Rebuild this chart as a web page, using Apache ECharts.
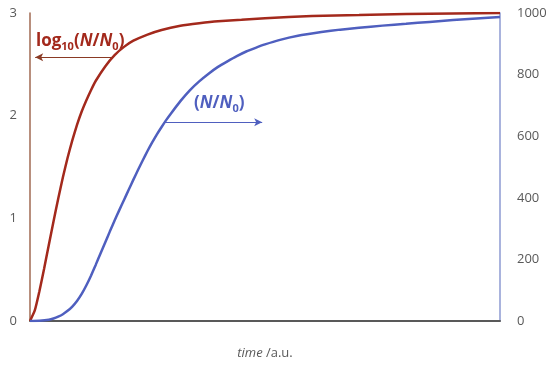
<!DOCTYPE html>
<html><head><meta charset="utf-8">
<script src="https://cdn.jsdelivr.net/npm/echarts@6/dist/echarts.min.js"></script>
<style>html,body{margin:0;padding:0;background:#fff}#c{width:550px;height:365px}</style>
</head><body><div id="c"></div>
<script>
// time (a.u.) and values
const redTime = [0, 1, 2, 3, 4, 5, 6, 7, 8, 9, 10, 11, 12, 13, 14, 16, 18, 20, 22, 25, 28, 32, 36, 40, 45, 50, 60, 70, 80, 90, 100];
const logValues = [0, 0.10, 0.29, 0.51, 0.74, 0.97, 1.19, 1.40, 1.59, 1.76, 1.91, 2.04, 2.15, 2.25, 2.34, 2.48, 2.59, 2.67, 2.73, 2.79, 2.835, 2.875, 2.90, 2.92, 2.935, 2.95, 2.97, 2.98, 2.99, 2.995, 3.0];
const blueTime = [0, 2, 4, 5, 6, 7, 8, 9, 10, 11, 12, 13, 14, 15, 16, 17, 18, 19, 20, 21, 22, 23, 24, 25, 26, 27, 28, 29, 30, 32, 34, 36, 38, 40, 42, 44, 46, 48, 50, 53, 57, 62, 66, 70, 75, 80, 85, 90, 95, 100];
const ratioValues = [0, 1, 4, 8, 14, 22, 33, 47, 65, 88, 116, 148, 183, 219, 255, 291, 326, 360, 393, 426, 459, 491, 522, 552, 580, 606, 630, 653, 674, 714, 749, 778, 803, 825, 843, 860, 875, 887, 898, 912, 926, 938, 946, 952, 959, 965, 971, 977, 982, 987];
const leftTicks = [0, 1, 2, 3];
const rightTicks = [0, 200, 400, 600, 800, 1000];

const RED = '#a3291c', BLUE = '#4f5fbf', GRAY = '#595959';
const chart = echarts.init(document.getElementById('c'));
chart.setOption({
  animation: false,
  grid: {left: 30, right: 50, top: 13, bottom: 39},
  xAxis: {
    type: 'value', min: 0, max: 100,
    axisLine: {lineStyle: {color: GRAY, width: 2}},
    axisTick: {show: false}, axisLabel: {show: false}, splitLine: {show: false},
    name: '{i|time} {n|/a.u.}', nameLocation: 'middle', nameGap: 26,
    nameTextStyle: {rich: {
      i: {fontStyle: 'italic', fontSize: 13, color: GRAY, fontFamily: 'Open Sans'},
      n: {fontSize: 13, color: GRAY, fontFamily: 'Open Sans'}
    }}
  },
  yAxis: [{
    type: 'value', min: 0, max: 3, interval: 1,
    axisLine: {show: true, lineStyle: {color: '#a06a52', width: 1.5}},
    axisTick: {show: false}, splitLine: {show: false},
    axisLabel: {color: GRAY, fontSize: 13, margin: 13, fontFamily: 'Open Sans',
      formatter: v => leftTicks.includes(v) ? String(v) : ''}
  }, {
    type: 'value', min: 0, max: 1000, interval: 200, position: 'right',
    axisLine: {show: true, lineStyle: {color: '#8d9ad2', width: 1.5}},
    axisTick: {show: false}, splitLine: {show: false},
    axisLabel: {color: GRAY, fontSize: 13, margin: 17, fontFamily: 'Open Sans',
      formatter: v => rightTicks.includes(v) ? String(v) : ''}
  }],
  series: [{
    type: 'line', yAxisIndex: 0, smooth: 0.15, showSymbol: false,
    lineStyle: {color: RED, width: 2.5},
    data: redTime.map((t, i) => [t, logValues[i]]),
    markLine: {silent: true, symbol: ['arrow', 'none'], symbolSize: [6, 8], label: {show: false},
      lineStyle: {color: '#8a3a24', width: 1.2, type: 'solid'},
      data: [[{coord: [1.1, 2.57]}, {coord: [17.4, 2.57]}]]}
  }, {
    type: 'line', yAxisIndex: 1, smooth: 0.15, showSymbol: false,
    lineStyle: {color: BLUE, width: 2.5},
    data: blueTime.map((t, i) => [t, ratioValues[i]]),
    markLine: {silent: true, symbol: ['none', 'arrow'], symbolSize: [6, 8], label: {show: false},
      lineStyle: {color: BLUE, width: 1.2, type: 'solid'},
      data: [[{coord: [28.7, 645]}, {coord: [49.4, 645]}]]}
  }],
  graphic: [{
    type: 'text', left: 36, top: 33,
    style: {
      text: '{n|log}{s|10}{n|(}{i|N}{n|/}{i|N}{s|0}{n|)}',
      rich: {
        n: {fontSize: 17, fontWeight: 'bold', fill: RED, fontFamily: 'Open Sans', lineHeight: 22},
        i: {fontSize: 17, fontWeight: 'bold', fontStyle: 'italic', fill: RED, fontFamily: 'Open Sans', lineHeight: 22},
        s: {fontSize: 11, fontWeight: 'bold', fill: RED, fontFamily: 'Open Sans', lineHeight: 22, verticalAlign: 'bottom', padding: [8, 0, 0, 0]}
      }
    }
  }, {
    type: 'text', left: 194, top: 95,
    style: {
      text: '{n|(}{i|N}{n|/}{i|N}{s|0}{n|)}',
      rich: {
        n: {fontSize: 17, fontWeight: 'bold', fill: BLUE, fontFamily: 'Open Sans', lineHeight: 22},
        i: {fontSize: 17, fontWeight: 'bold', fontStyle: 'italic', fill: BLUE, fontFamily: 'Open Sans', lineHeight: 22},
        s: {fontSize: 11, fontWeight: 'bold', fill: BLUE, fontFamily: 'Open Sans', lineHeight: 22, verticalAlign: 'bottom', padding: [8, 0, 0, 0]}
      }
    }
  }]
});
</script></body></html>
